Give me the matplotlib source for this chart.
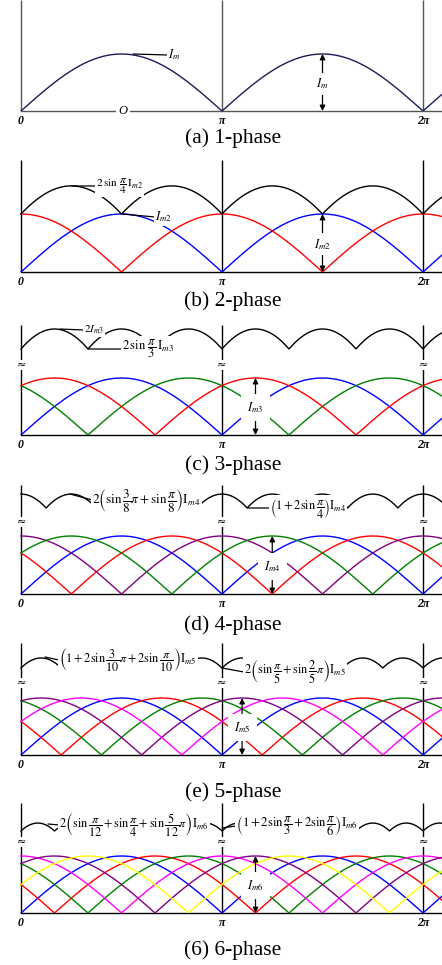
import numpy as np
import matplotlib
matplotlib.use("Agg")
import matplotlib.pyplot as plt

plt.rcParams["font.family"] = ["Liberation Serif", "DejaVu Serif"]
plt.rcParams["mathtext.fontset"] = "stix"

W, H = 442, 965

# phase shifts of each rectified current, in units of pi
SHIFTS = [
    [0],
    [0, 1/2],
    [0, 1/3, 2/3],
    [0, 1/4, 1/2, 3/4],
    [0, 1/5, 2/5, 3/5, 4/5],
    [0, 1/6, 1/3, 1/2, 2/3, 5/6],
]
COLORS = [
    ["#1c1c5c"],
    ["blue", "red"],
    ["blue", "green", "red"],
    ["blue", "red", "purple", "green"],
    ["blue", "red", "green", "purple", "magenta"],
    ["blue", "red", "green", "magenta", "purple", "yellow"],
]
# shift of the summed envelope (in pi) as drawn
SUM_SHIFT = [None, 0, 0, 1/8, 0, 0]
# x of the amplitude arrow, in units of pi
ARROW_X = [3/2, 3/2, 7/6, 5/4, 11/10, 7/6]
ARROW_LBL = [r"$I_m$", r"$I_{m2}$", r"$I_{m3}$", r"$I_{m4}$", r"$I_{m5}$", r"$I_{m6}$"]
CAPTIONS = ["(a) 1-phase", "(b) 2-phase", "(c) 3-phase",
            "(d) 4-phase", "(e) 5-phase", "(6) 6-phase"]
TICKS = [0, np.pi, 2 * np.pi]
TICK_LBL = ["0", r"π", r"2π"]

# panel geometry in pixels
TOP_PX = [0, 160, 325, 485, 643, 803]
BASE_PX = [111, 272, 435, 594, 755, 913]
AMP_PX = [57, 58, 57, 58, 57, 57]
CUSP_PX = [None, 214, 349, 508, 668, 831]
GAIN = [None, 1.17, 1.31, 1.21, 1.11, 1.06]
BREAK_PX = [None, None, 365, 522, 683, 842]
CAP_PX = [138, 301, 465, 625, 792, 950]

X0_PX, PI_PX = 21, 201

# text labels: (text, text px, leader start px, fontsize)
LABELS = [
    [(r"$I_m$", (168, 55), (133, 54), 9)],
    [(r"$2\,\sin\,\dfrac{\pi}{4}\,\mathrm{I}_{m2}$", (96, 186), (72, 186), 8.2),
     (r"$I_{m2}$", (155, 217), (122, 214), 9)],
    [(r"$2I_{m3}$", (84, 330), (60, 329), 8),
     (r"$2\,\sin\,\dfrac{\pi}{3}\,\mathrm{I}_{m3}$", (122, 349), (88, 349), 9.2)],
    [(r"$2\left(\sin\dfrac{3}{8}\pi+\sin\dfrac{\pi}{8}\right)\mathrm{I}_{m4}$", (92, 500), (70, 494), 9.5),
     (r"$\left(1+2\sin\dfrac{\pi}{4}\right)\mathrm{I}_{m4}$", (270, 508), (248, 508), 8.9)],
    [(r"$\left(1+2\sin\dfrac{3}{10}\pi+2\sin\dfrac{\pi}{10}\right)\mathrm{I}_{m5}$", (59, 660), (45, 657), 8.8),
     (r"$2\left(\sin\dfrac{\pi}{5}+\sin\dfrac{2}{5}\pi\right)\mathrm{I}_{m5}$", (244, 672), (222, 668), 8.8)],
    [(r"$2\left(\sin\dfrac{\pi}{12}+\sin\dfrac{\pi}{4}+\sin\dfrac{5}{12}\pi\right)\mathrm{I}_{m6}$", (59, 825), (48, 824), 8.8),
     (r"$\left(1+2\sin\dfrac{\pi}{3}+2\sin\dfrac{\pi}{6}\right)\mathrm{I}_{m6}$", (236, 826), (222, 828), 9.2)],
]

fig = plt.figure(figsize=(W / 100, H / 100), dpi=100)

x_max = (W - X0_PX) / PI_PX * np.pi
x_min = -X0_PX / PI_PX * np.pi
x = np.linspace(0, x_max, 2000)

for i in range(6):
    top, base, amp = TOP_PX[i], BASE_PX[i], AMP_PX[i]
    ax = fig.add_axes([0, (H - base) / H, 1, (base - top) / H])
    ax.set_xlim(x_min, x_max)
    y_top = (base - top) / amp
    ax.set_ylim(0, y_top)
    ax.axis("off")

    def to_data(px, py, base=base, amp=amp):
        return ((px - X0_PX) / PI_PX * np.pi, (base - py) / amp)

    ax_col = "#555555" if i == 0 else "black"
    ax.plot([0, x_max], [0, 0], color=ax_col, lw=1.0, clip_on=False, zorder=2)
    ax.vlines(TICKS, 0, y_top, color=ax_col, lw=1.0, zorder=2)

    curves = [np.abs(np.sin(x - s * np.pi)) for s in SHIFTS[i]]
    for c, col in zip(curves, COLORS[i]):
        ax.plot(x, c, color=col, lw=1.0, zorder=3)

    if SUM_SHIFT[i] is not None:
        total = sum(np.abs(np.sin(x - SUM_SHIFT[i] * np.pi - s * np.pi)) for s in SHIFTS[i])
        y_sum = (base - CUSP_PX[i]) / amp + (total - total.min()) * GAIN[i]
        ax.plot(x, y_sum, color="black", lw=1.0, zorder=3)

    if BREAK_PX[i] is not None:
        yb = (base - BREAK_PX[i]) / amp
        for t in TICKS:
            ax.text(t, yb, "≈", ha="center", va="center", fontsize=8,
                    family="DejaVu Sans", zorder=5,
                    bbox=dict(fc="white", ec="none", pad=0.1))

    # amplitude arrow with label
    xa = ARROW_X[i] * np.pi
    ax.annotate("", xy=(xa, 1), xytext=(xa, 0),
                arrowprops=dict(arrowstyle="<|-|>", color="black", lw=0.9,
                                shrinkA=0, shrinkB=0, mutation_scale=8),
                zorder=6)
    ax.text(xa, 0.48, ARROW_LBL[i], ha="center", va="center", fontsize=9, zorder=7,
            bbox=dict(fc="white", ec="none", pad=4.5 if i > 1 else 2.5))

    for txt, (tx, ty), (lx, ly), fs in LABELS[i]:
        ax.annotate(txt, xy=to_data(lx, ly), xytext=to_data(tx, ty),
                    ha="left", va="center", fontsize=fs, zorder=8,
                    bbox=dict(fc="white", ec="none", pad=0.8),
                    arrowprops=dict(arrowstyle="-", color="black", lw=0.9,
                                    shrinkA=0, shrinkB=0, relpos=(0, 0.5)))

    if i == 0:
        ax.text(*to_data(123, 111), "O", ha="center", va="center", fontsize=9,
                style="italic", zorder=7, bbox=dict(fc="white", ec="none", pad=2.0))

    for t, lbl in zip(TICKS, TICK_LBL):
        ax.annotate(lbl, xy=(t, 0), xytext=(0, -7), textcoords="offset points",
                    ha="center", va="center", fontsize=8.5, fontweight="bold",
                    style="italic", annotation_clip=False)

    fig.text(233 / W, 1 - CAP_PX[i] / H, CAPTIONS[i], ha="center", va="center",
             fontsize=15.5)

fig.savefig("out.png", dpi=100, facecolor="white")
